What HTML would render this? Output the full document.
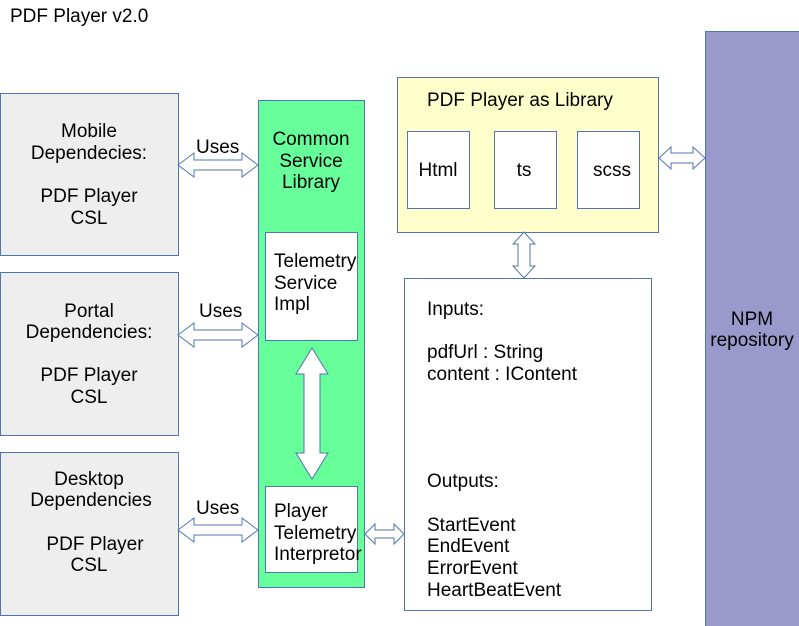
<!DOCTYPE html>
<html><head><style>
body{margin:0;background:#fff;}
svg{display:block;font-family:"Liberation Sans",sans-serif;}
</style></head><body>
<svg width="799" height="626" viewBox="0 0 799 626" xmlns="http://www.w3.org/2000/svg">
<g stroke="#4f76b0" stroke-width="1">
<rect x="0.5" y="93.5" width="178" height="162" fill="#eeeeee"/>
<rect x="0.5" y="272.5" width="178" height="163" fill="#eeeeee"/>
<rect x="0.5" y="452.5" width="178" height="163" fill="#eeeeee"/>
<rect x="258.5" y="100.5" width="106" height="487" fill="#66ff99"/>
<rect x="265.5" y="232.5" width="92" height="108" fill="#fff"/>
<rect x="265.5" y="486.5" width="92" height="86" fill="#fff"/>
<rect x="397.5" y="77.5" width="261" height="155" fill="#ffffcc"/>
<rect x="407.5" y="131.5" width="62" height="77" fill="#fff"/>
<rect x="494.5" y="131.5" width="62" height="77" fill="#fff"/>
<rect x="577.5" y="131.5" width="62" height="77" fill="#fff"/>
<rect x="404.5" y="278.5" width="247" height="332" fill="#fff"/>
<rect x="705.5" y="31.5" width="94" height="600" fill="#9999cc"/>
<g fill="#fff">
<path d="M178,165 L194,153 L194,160 L242,160 L242,153 L258,165 L242,177 L242,170 L194,170 L194,177 Z"/>
<path d="M178,335 L194,323 L194,330 L242,330 L242,323 L258,335 L242,347 L242,340 L194,340 L194,347 Z"/>
<path d="M178,530 L194,518 L194,525 L242,525 L242,518 L258,530 L242,542 L242,535 L194,535 L194,542 Z"/>
<path d="M659,158 L671,147 L671,153 L693,153 L693,147 L705,158 L693,169 L693,163 L671,163 L671,169 Z"/>
<path d="M365,534 L375,524 L375,530 L394,530 L394,524 L404,534 L394,544 L394,538 L375,538 L375,544 Z"/>
<path d="M524,232 L535,244 L530,244 L530,266 L535,266 L524,278 L513,266 L518,266 L518,244 L513,244 Z"/>
<path d="M312,348 L328,374 L320,374 L320,453 L328,453 L312,479 L296,453 L304,453 L304,374 L296,374 Z"/>
</g>
</g>
<g font-size="19" fill="#000">
<text x="10" y="22">PDF Player v2.0</text>
<g text-anchor="middle">
<text x="89" y="137">Mobile</text>
<text x="89" y="159">Dependecies:</text>
<text x="89" y="202">PDF Player</text>
<text x="89" y="224">CSL</text>
<text x="89" y="317">Portal</text>
<text x="89" y="338">Dependencies:</text>
<text x="89" y="381">PDF Player</text>
<text x="89" y="403">CSL</text>
<text x="89" y="485">Desktop</text>
<text x="91" y="506">Dependencies</text>
<text x="95" y="550">PDF Player</text>
<text x="89" y="571">CSL</text>
<text x="311" y="145">Common</text>
<text x="311" y="167">Service</text>
<text x="311" y="188">Library</text>
<text x="438" y="176">Html</text>
<text x="524" y="176">ts</text>
<text x="612" y="176">scss</text>
<text x="752" y="325">NPM</text>
<text x="752" y="346">repository</text>
</g>
<text x="196" y="153">Uses</text>
<text x="199" y="317">Uses</text>
<text x="196" y="514">Uses</text>
<text x="274" y="267">Telemetry</text>
<text x="274" y="289">Service</text>
<text x="274" y="310">Impl</text>
<text x="274" y="517">Player</text>
<text x="274" y="539">Telemetry</text>
<text x="274" y="560">Interpretor</text>
<text x="427" y="106">PDF Player as Library</text>
<text x="427" y="315">Inputs:</text>
<text x="427" y="358">pdfUrl : String</text>
<text x="427" y="380">content : IContent</text>
<text x="427" y="487">Outputs:</text>
<text x="427" y="531">StartEvent</text>
<text x="427" y="552">EndEvent</text>
<text x="427" y="574">ErrorEvent</text>
<text x="427" y="596">HeartBeatEvent</text>
</g>
</svg>
</body></html>
